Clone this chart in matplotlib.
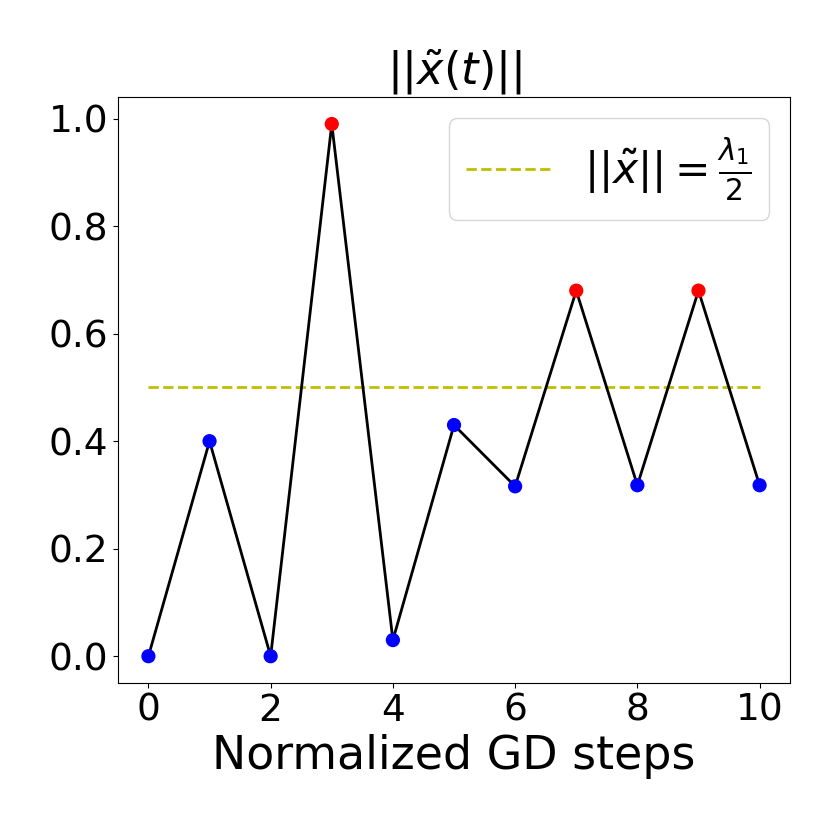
import matplotlib
matplotlib.use("Agg")
import matplotlib.pyplot as plt
import numpy as np

steps = [0, 1, 2, 3, 4, 5, 6, 7, 8, 9, 10]
norms = [0.0, 0.40, 0.0, 0.99, 0.03, 0.43, 0.316, 0.68, 0.318, 0.68, 0.318]
threshold = 0.5

steps = np.array(steps)
norms = np.array(norms)
colors = np.where(norms > threshold, "red", "blue")

fig = plt.figure(figsize=(8.3, 8.3), dpi=100)
ax = fig.add_axes([0.142, 0.177, 0.810, 0.706])

ax.plot(steps, norms, color="black", linewidth=2, zorder=2)
ax.scatter(steps, norms, c=colors, s=85, zorder=3)
ax.plot(steps, np.full(len(steps), threshold), "--", color="y", linewidth=2,
        label=r"$||\tilde{x}|| = \frac{\lambda_1}{2}$", zorder=1)

ax.set_xlim(-0.5, 10.5)
ax.set_ylim(-0.05, 1.04)
ax.set_xticks([0, 2, 4, 6, 8, 10])
ax.set_yticks([0.0, 0.2, 0.4, 0.6, 0.8, 1.0])
ax.tick_params(labelsize=27)
ax.set_xlabel("Normalized GD steps", fontsize=33)
ax.set_title(r"$||\tilde{x}(t)||$", fontsize=32)
ax.legend(loc="upper right", fontsize=30.5)

plt.savefig("out.png")
